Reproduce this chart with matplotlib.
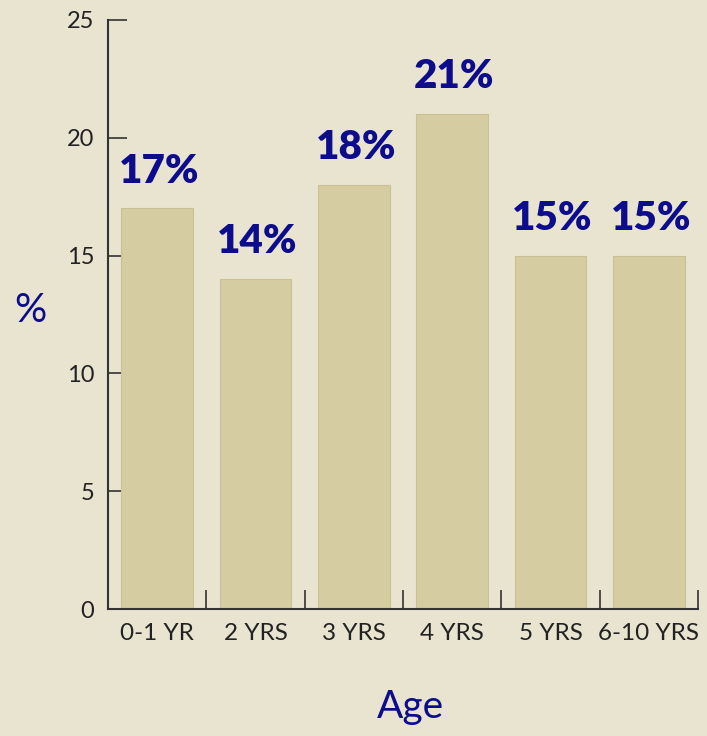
import matplotlib
matplotlib.use("Agg")
import matplotlib.pyplot as plt
import numpy as np

categories = ["0-1 YR", "2 YRS", "3 YRS", "4 YRS", "5 YRS", "6-10 YRS"]
values = [17, 14, 18, 21, 15, 15]
labels = ["17%", "14%", "18%", "21%", "15%", "15%"]
yticks = [0, 5, 10, 15, 20, 25]

bg = "#E9E4D0"
bar_c = "#D5CCA1"
navy = "#0C0C8C"
dark = "#333333"

plt.rcParams['font.family'] = ['Lato', 'DejaVu Sans']

fig = plt.figure(figsize=(7.07, 7.36), dpi=100, facecolor=bg)
ax = fig.add_axes([108/707, 1-609/736, (698-108)/707, (609-20)/736])
ax.set_facecolor(bg)

x = np.arange(len(categories))
ax.bar(x, values, width=0.73, color=bar_c, edgecolor="#C9C096", linewidth=0.8, zorder=2)
for xi, v, lab in zip(x, values, labels):
    ax.text(xi + 0.02, v + 0.8, lab, ha="center", va="bottom", color=navy,
            fontsize=29, fontweight="heavy")

ax.set_xlim(-0.5, len(categories) - 0.5)
ax.set_ylim(0, 25)
ax.set_yticks(yticks)
ax.set_yticklabels([str(t) for t in yticks], fontsize=17, color="#222222")
ax.set_xticks(x)
ax.set_xticklabels(categories, fontsize=17.5, color="#222222")
ax.tick_params(axis="x", length=0, pad=10)
ax.set_xticks(np.arange(len(categories)) + 0.5, minor=True)
ax.tick_params(axis="x", which="minor", direction="in", length=14, width=1.2, color=dark)
ax.tick_params(axis="y", direction="in", length=14, width=1.2, color=dark, pad=10)

for s in ["top", "right"]:
    ax.spines[s].set_visible(False)
for s in ["left", "bottom"]:
    ax.spines[s].set_color(dark)
    ax.spines[s].set_linewidth(1.5)

fig.text(30/707, 1-310/736, "%", color=navy, fontsize=29, ha="center", va="center")
fig.text(410/707, 1-707/736, "Age", color=navy, fontsize=28, ha="center", va="center")

fig.savefig("out.png", dpi=100, facecolor=bg)
